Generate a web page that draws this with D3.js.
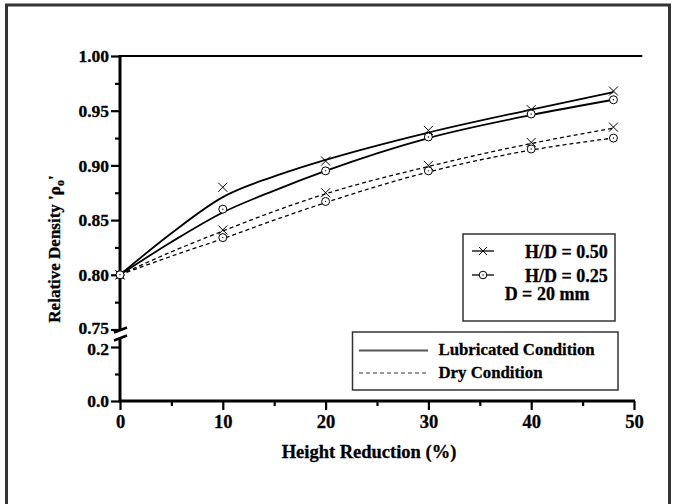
<!DOCTYPE html>
<html>
<head>
<meta charset="utf-8">
<script src="https://cdn.jsdelivr.net/npm/d3@7"></script>
<style>
  html, body { margin: 0; padding: 0; background: #fff; }
  svg { display: block; }
  text { font-family: "Liberation Serif", "Times New Roman", serif; font-weight: bold; fill: #000; stroke: #000; stroke-width: 0.3px; }
</style>
</head>
<body>
<svg id="chart"></svg>
<script>
const width = 674;
const height = 504;

// measured points (height reduction %)
const heightReduction = [0, 10, 20, 30, 40, 48];
const lubHD50 = [0.800, 0.880, 0.904, 0.932, 0.951, 0.968];
const lubHD25 = [0.800, 0.860, 0.895, 0.926, 0.947, 0.960];
const dryHD50 = [0.800, 0.841, 0.875, 0.900, 0.921, 0.935];
const dryHD25 = [0.800, 0.834, 0.867, 0.895, 0.915, 0.925];

// fitted curves
const fitX = [0, 5, 10, 15, 20, 30, 40, 48];
const lubHD50Fit = [0.800, 0.838, 0.871, 0.890, 0.905, 0.930, 0.951, 0.967];
const lubHD25Fit = [0.800, 0.830, 0.857, 0.877, 0.895, 0.925, 0.946, 0.960];
const dryHD50Fit = [0.800, 0.821, 0.840, 0.858, 0.874, 0.899, 0.920, 0.934];
const dryHD25Fit = [0.800, 0.817, 0.833, 0.850, 0.866, 0.894, 0.914, 0.925];

const xMajor = [0, 10, 20, 30, 40, 50];
const xMinor = [5, 15, 25, 35, 45];
const yUpMajor = [0.75, 0.80, 0.85, 0.90, 0.95, 1.00];
const yUpMinor = [0.775, 0.825, 0.875, 0.925, 0.975];
const yLowMajor = [0.0, 0.2];
const yLowMinor = [0.1];

const shapeLegend = ['H/D = 0.50', 'H/D = 0.25'];
const conditionLegend = ['Lubricated Condition', 'Dry Condition'];

const svg = d3.select('#chart').attr('width', width).attr('height', height);

// outer frame
svg.append('rect')
    .attr('x', 6.5).attr('y', 5)
    .attr('width', 663).attr('height', 530)
    .attr('fill', 'none').attr('stroke', '#333').attr('stroke-width', 3);

const x = d3.scaleLinear().domain([0, 50]).range([120, 634]);
const yUp = d3.scaleLinear().domain([0.75, 1.00]).range([329.5, 56]);
const yLow = d3.scaleLinear().domain([0, 0.2]).range([401, 347]);

function label(g, px, py, str, size, anchor) {
    return g.append('text')
        .attr('x', px).attr('y', py)
        .attr('text-anchor', anchor)
        .style('font-size', size + 'px')
        .text(str);
}

function styleAxis(g, size) {
    g.select('.domain').remove();
    g.selectAll('.tick line').attr('stroke', '#000').attr('stroke-width', 2.2);
    g.selectAll('text')
        .attr('fill', '#000')
        .style('font-size', size + 'px')
        .style('font-family', '"Liberation Serif", "Times New Roman", serif')
        .style('font-weight', 'bold');
}

// x axis
const xAxisG = svg.append('g').attr('transform', `translate(0, ${yLow(0)})`);
xAxisG.call(d3.axisBottom(x).tickValues(xMajor).tickSize(9).tickPadding(5).tickFormat(d3.format('d')));
styleAxis(xAxisG, 18.5);
const xMinorG = svg.append('g').attr('transform', `translate(0, ${yLow(0)})`);
xMinorG.call(d3.axisBottom(x).tickValues(xMinor).tickSize(5).tickFormat(''));
styleAxis(xMinorG, 18.5);
svg.append('line')
    .attr('x1', x(0) - 1).attr('x2', x(50) + 1)
    .attr('y1', yLow(0)).attr('y2', yLow(0))
    .attr('stroke', '#000').attr('stroke-width', 2.8);

// y axis, upper part
const yUpG = svg.append('g').attr('transform', `translate(${x(0)}, 0)`);
yUpG.call(d3.axisLeft(yUp).tickValues(yUpMajor).tickSize(9).tickPadding(2).tickFormat(d3.format('.2f')));
styleAxis(yUpG, 17.5);
yUpG.selectAll('text').filter(d => d === 0.75).attr('dy', '0.2em');
const yUpMinorG = svg.append('g').attr('transform', `translate(${x(0)}, 0)`);
yUpMinorG.call(d3.axisLeft(yUp).tickValues(yUpMinor).tickSize(5).tickFormat(''));
styleAxis(yUpMinorG, 17.5);

// y axis, lower part
const yLowG = svg.append('g').attr('transform', `translate(${x(0)}, 0)`);
yLowG.call(d3.axisLeft(yLow).tickValues(yLowMajor).tickSize(9).tickPadding(2).tickFormat(d3.format('.1f')));
styleAxis(yLowG, 17.5);
yLowG.selectAll('text').filter(d => d === 0.2).attr('dy', '0.42em');
const yLowMinorG = svg.append('g').attr('transform', `translate(${x(0)}, 0)`);
yLowMinorG.call(d3.axisLeft(yLow).tickValues(yLowMinor).tickSize(5).tickFormat(''));
styleAxis(yLowMinorG, 17.5);

svg.append('line')
    .attr('x1', x(0)).attr('x2', x(0))
    .attr('y1', yUp(1.0) - 1).attr('y2', yUp(0.75))
    .attr('stroke', '#000').attr('stroke-width', 3);
svg.append('line')
    .attr('x1', x(0)).attr('x2', x(0))
    .attr('y1', yLow(0.235)).attr('y2', yLow(0) + 1)
    .attr('stroke', '#000').attr('stroke-width', 3);

// break marks
[0, 8].forEach(off => {
    svg.append('line')
        .attr('x1', x(0) - 6).attr('y1', yUp(0.75) + 3 + off)
        .attr('x2', x(0) + 7).attr('y2', yUp(0.75) - 2 + off)
        .attr('stroke', '#000').attr('stroke-width', 2.5);
});

// top reference line at 1.00
svg.append('line')
    .attr('x1', x(0)).attr('x2', x(50.8))
    .attr('y1', yUp(1.0)).attr('y2', yUp(1.0))
    .attr('stroke', '#000').attr('stroke-width', 2.2);

// fitted lines
const line = d3.line()
    .x(d => x(d[0]))
    .y(d => yUp(d[1]))
    .curve(d3.curveMonotoneX);

const fits = [
    {vals: lubHD50Fit, dash: null},
    {vals: lubHD25Fit, dash: null},
    {vals: dryHD50Fit, dash: '4,3'},
    {vals: dryHD25Fit, dash: '4,3'}
];
fits.forEach(f => {
    svg.append('path')
        .datum(fitX.map((v, i) => [v, f.vals[i]]))
        .attr('fill', 'none')
        .attr('stroke', '#000')
        .attr('stroke-width', f.dash ? 1.3 : 1.8)
        .attr('stroke-dasharray', f.dash)
        .attr('d', line);
});

// markers
function crossMark(g, cx, cy, s) {
    g.append('path')
        .attr('d', `M${cx - s},${cy - s}L${cx + s},${cy + s}M${cx - s},${cy + s}L${cx + s},${cy - s}`)
        .attr('stroke', '#000').attr('stroke-width', 1).attr('fill', 'none');
}
function circleMark(g, cx, cy, r) {
    g.append('circle').attr('cx', cx).attr('cy', cy).attr('r', r)
        .attr('fill', '#fff').attr('stroke', '#000').attr('stroke-width', 1);
    g.append('circle').attr('cx', cx).attr('cy', cy).attr('r', 0.7).attr('fill', '#000');
}

const marks = svg.append('g');
[lubHD50, dryHD50].forEach(s => {
    heightReduction.forEach((h, i) => crossMark(marks, x(h), yUp(s[i]), 4.5));
});
[lubHD25, dryHD25].forEach(s => {
    heightReduction.forEach((h, i) => circleMark(marks, x(h), yUp(s[i]), 4));
});

// legend: specimen shape
const leg1 = svg.append('g');
leg1.append('rect')
    .attr('x', 463).attr('y', 234).attr('width', 152).attr('height', 87)
    .attr('fill', '#fff').attr('stroke', '#333').attr('stroke-width', 1.5);
[251, 275].forEach((ly, i) => {
    leg1.append('line')
        .attr('x1', 472).attr('x2', 494).attr('y1', ly).attr('y2', ly)
        .attr('stroke', '#000').attr('stroke-width', 1.3);
    if (i === 0) crossMark(leg1, 483, ly, 4);
    else circleMark(leg1, 483, ly, 3.8);
    label(leg1, 525, ly + 6.5, shapeLegend[i], 18, 'start');
});
label(leg1, 547, 300, 'D = 20 mm', 18, 'middle');

// legend: lubrication condition
const leg2 = svg.append('g');
leg2.append('rect')
    .attr('x', 352.5).attr('y', 332).attr('width', 265.5).attr('height', 58)
    .attr('fill', '#fff').attr('stroke', '#333').attr('stroke-width', 1.5);
leg2.append('line')
    .attr('x1', 359).attr('x2', 428).attr('y1', 350.5).attr('y2', 350.5)
    .attr('stroke', '#555').attr('stroke-width', 2);
leg2.append('line')
    .attr('x1', 359).attr('x2', 428).attr('y1', 373).attr('y2', 373)
    .attr('stroke', '#333').attr('stroke-width', 1.2).attr('stroke-dasharray', '4,3');
label(leg2, 438.5, 354.5, conditionLegend[0], 16.8, 'start');
label(leg2, 438.5, 377.5, conditionLegend[1], 16.8, 'start');

// axis titles
label(svg, 369, 458, 'Height Reduction (%)', 18.5, 'middle');

const yTitle = svg.append('text')
    .attr('transform', 'translate(60, 249) rotate(-90)')
    .attr('text-anchor', 'middle')
    .style('font-size', '17px');
yTitle.append('tspan').text("Relative Density '\u03C1");
yTitle.append('tspan').attr('dy', 4).style('font-size', '12px').text('o');
yTitle.append('tspan').attr('dy', -4).text("'");
</script>
</body>
</html>
